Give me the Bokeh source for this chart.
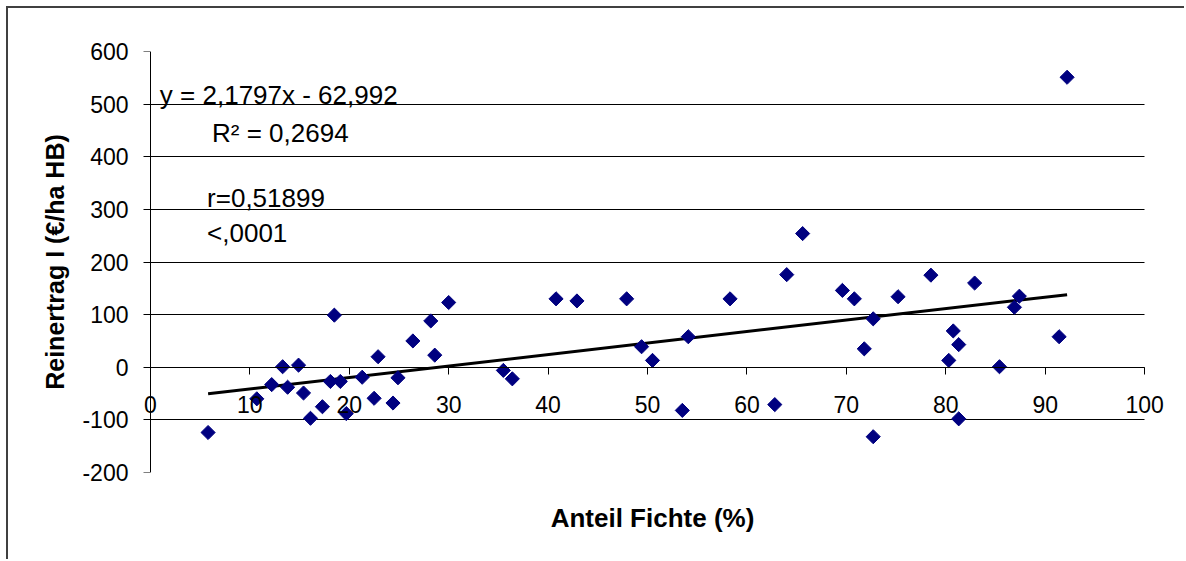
import numpy as np
from bokeh.plotting import figure
from bokeh.models import (Range1d, LinearAxis, FixedTicker, Label,
                          PrintfTickFormatter)
from bokeh.embed import file_html
from bokeh.resources import INLINE

# ---- data ----
anteil_fichte = [5.8, 10.7, 12.2, 13.3, 13.8, 14.9, 15.4, 16.1, 17.3, 18.1,
                 18.5, 19.1, 19.7, 21.3, 22.5, 22.9, 24.4, 24.9, 26.4, 28.2,
                 28.6, 30.0, 35.5, 36.4, 40.8, 42.9, 47.9, 49.4, 50.5, 53.5,
                 54.1, 58.3, 62.8, 64.0, 65.6, 69.6, 70.8, 71.8, 72.7, 72.7,
                 75.2, 78.5, 80.3, 80.75, 81.3, 81.3, 82.9, 85.4, 86.9, 87.4,
                 91.4, 92.2]
reinertrag = [-124, -60, -33, 1, -38, 4, -49, -97, -75, -27,
              99, -27, -88, -19, -59, 20, -68, -20, 50, 88,
              23, 123, -6, -22, 130, 126, 130, 39, 13, -82,
              58, 130, -71, 176, 254, 146, 130, 35, 92, -132,
              134, 175, 13, 69, 43, -98, 160, 1, 114, 135,
              58, 551]

trend_slope = 2.1797
trend_intercept = -62.992

x_ticks = [0, 10, 20, 30, 40, 50, 60, 70, 80, 90, 100]
y_ticks = [-200, -100, 0, 100, 200, 300, 400, 500, 600]

x_title = "Anteil Fichte (%)"
y_title = "Reinertrag I (€/ha HB)"
eq_text = "y = 2,1797x - 62,992"
r2_text = "R² = 0,2694"
r_text = "r=0,51899"
p_text = "<,0001"

FONT = "Liberation Sans"

p = figure(width=1178, height=553,
           x_range=Range1d(-1.5, 102.5), y_range=Range1d(-200, 600),
           output_backend="svg", toolbar_location=None,
           min_border_left=127, min_border_right=17,
           min_border_top=43, min_border_bottom=89)
# chart-area border (top and left edges visible in the reference)
p.styles = {"border-top": "2px solid #404040", "border-left": "2px solid #404040",
            "margin-left": "6px", "margin-top": "6px"}
p.outline_line_color = None
p.background_fill_color = "white"
p.border_fill_color = "white"

# main bottom axis: carries only the title
xa0 = p.xaxis[0]
xa0.ticker = FixedTicker(ticks=[])
xa0.axis_line_color = None
xa0.major_tick_out = 0
xa0.major_tick_in = 0
xa0.minor_tick_out = 0
xa0.minor_tick_in = 0
xa0.axis_label = x_title
xa0.axis_label_text_font = FONT
xa0.axis_label_text_font_size = "26px"
xa0.axis_label_text_font_style = "bold"
xa0.axis_label_text_color = "black"
xa0.axis_label_standoff = 30

# x axis crossing at y = 0
xa = LinearAxis(fixed_location=0, ticker=FixedTicker(ticks=x_ticks),
                bounds=(0, 100),
                major_tick_out=7, major_tick_in=0,
                minor_tick_out=0, minor_tick_in=0,
                axis_line_color="black", axis_line_width=1,
                major_tick_line_color="black",
                major_label_text_font=FONT,
                major_label_text_font_size="23px",
                major_label_text_color="black",
                major_label_standoff=22)
p.add_layout(xa, "below")

# main left axis: tick labels and title only
ya = p.yaxis[0]
ya.ticker = FixedTicker(ticks=y_ticks)
ya.formatter = PrintfTickFormatter(format="%d")
ya.axis_line_color = None
ya.major_tick_out = 0
ya.major_tick_in = 0
ya.minor_tick_out = 0
ya.minor_tick_in = 0
ya.major_label_text_font = FONT
ya.major_label_text_font_size = "23px"
ya.major_label_text_color = "black"
ya.major_label_standoff = 7
ya.axis_label = y_title
ya.axis_label_text_font = FONT
ya.axis_label_text_font_size = "25px"
ya.axis_label_text_font_style = "bold"
ya.axis_label_text_color = "black"
ya.axis_label_standoff = 10

# y axis line and ticks at x = 0
ya2 = LinearAxis(fixed_location=0, ticker=FixedTicker(ticks=y_ticks),
                 major_tick_out=7, major_tick_in=0,
                 minor_tick_out=0, minor_tick_in=0,
                 axis_line_color="black", major_tick_line_color="black",
                 major_label_text_color=None)
p.add_layout(ya2, "left")

p.xgrid.visible = False
p.ygrid.ticker = FixedTicker(ticks=y_ticks)
p.ygrid.cross_bounds = (0, 100)
p.ygrid.grid_line_color = "black"
p.ygrid.grid_line_width = 1

# trend line over the data range
tx = [min(anteil_fichte), max(anteil_fichte)]
ty = [trend_slope * v + trend_intercept for v in tx]
p.line(tx, ty, line_color="black", line_width=3)

p.scatter(anteil_fichte, reinertrag, marker="square", size=10, angle=np.pi / 4,
          fill_color="#000080", line_color="#000080")

for (lx, ly, txt) in [(0.95, 517, eq_text), (6.2, 446, r2_text),
                      (5.7, 321, r_text), (5.7, 256, p_text)]:
    p.add_layout(Label(x=lx, y=ly, text=txt, text_baseline="alphabetic",
                       text_font=FONT, text_font_size="26px", text_color="black"))

open("out.html", "w").write(file_html(p, INLINE))
